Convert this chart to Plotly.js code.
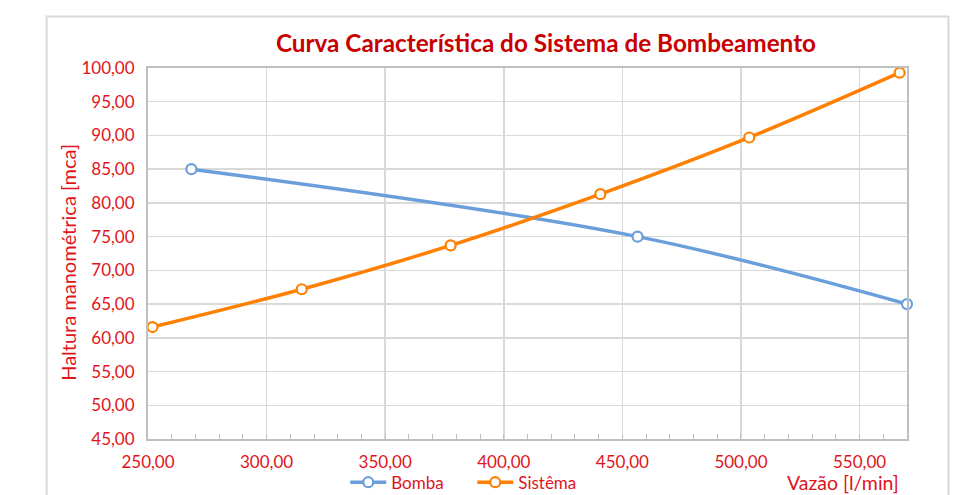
<!DOCTYPE html>
<html>
<head>
<meta charset="utf-8">
<script src="https://cdn.plot.ly/plotly-3.0.1.min.js"></script>
<style>html,body{margin:0;padding:0;background:#fff;}#chart{width:954px;height:495px;}</style>
</head>
<body>
<div id="chart"></div>
<script>
// Data
const bombaX = [268.3, 456.4, 570.0];
const bombaY = [85.0, 75.0, 65.0];
const sistemaX = [251.9, 314.8, 377.6, 440.7, 503.5, 566.9];
const sistemaY = [61.6, 67.2, 73.7, 81.3, 89.7, 99.3];
const seriesNames = ['Bomba', 'Sistêma'];
const chartTitle = 'Curva Característica do Sistema de Bombeamento';
const xTitle = 'Vazão [l/min]';
const yTitle = 'Haltura manométrica [mca]';

const FONT = 'Lato, "Open Sans", sans-serif';
const RED = '#E0141B';
const BLUE = '#6A9FDC';
const ORANGE = '#FF8000';

const W = 954, H = 495;
const L = 147.5, R = 46.5, T = 67.5, B = 56;
const pw = W - L - R, ph = H - T - B;
const px = x => (x - L) / pw;
const py = y => (H - B - y) / ph;

const traces = [
  {x: bombaX, y: bombaY, name: seriesNames[0], type: 'scatter', mode: 'lines+markers',
   line: {color: BLUE, width: 3.5, shape: 'spline', smoothing: 1},
   marker: {symbol: 'circle', size: 10, color: '#ffffff', line: {color: BLUE, width: 2.2}},
   cliponaxis: false},
  {x: sistemaX, y: sistemaY, name: seriesNames[1], type: 'scatter', mode: 'lines+markers',
   line: {color: ORANGE, width: 3.5, shape: 'spline', smoothing: 1},
   marker: {symbol: 'circle', size: 10, color: '#ffffff', line: {color: ORANGE, width: 2.2}},
   cliponaxis: false}
];

const layout = {
  width: W, height: H,
  margin: {l: L, r: R, t: T, b: B, autoexpand: false},
  paper_bgcolor: '#ffffff', plot_bgcolor: '#ffffff',
  separators: ',.',
  font: {family: FONT, size: 17, color: RED},
  title: {text: '<b>' + chartTitle + '</b>', font: {family: FONT, size: 24.3, color: '#C80000'},
          x: 546 / W, xref: 'container', xanchor: 'center', y: 1 - 43 / H, yref: 'container', yanchor: 'middle'},
  xaxis: {range: [250, 570], tick0: 250, dtick: 50, tickformat: '.2f',
          showgrid: true, gridcolor: '#D9D9D9', gridwidth: 1.5,
          showline: true, linecolor: '#BFBFBF', linewidth: 2, mirror: true,
          ticks: 'inside', ticklen: 5, tickcolor: '#BFBFBF', tickwidth: 1,
          minor: {dtick: 10, tick0: 250, ticks: 'inside', ticklen: 5, tickcolor: '#BFBFBF', tickwidth: 1, showgrid: false},
          tickfont: {family: FONT, size: 17, color: RED}, ticklabelstandoff: 7,
          zeroline: false, fixedrange: true, automargin: false},
  yaxis: {range: [45, 100], tick0: 45, dtick: 5, tickformat: '.2f',
          showgrid: true, gridcolor: '#D9D9D9', gridwidth: 1.5,
          showline: true, linecolor: '#BFBFBF', linewidth: 2, mirror: true,
          ticks: '', tickfont: {family: FONT, size: 17, color: RED}, ticklabelstandoff: 8,
          zeroline: false, fixedrange: true, automargin: false},
  showlegend: true,
  legend: {orientation: 'h', x: px(345), xanchor: 'left', y: py(482.7), yanchor: 'middle',
           itemwidth: 36, entrywidth: 76, entrywidthmode: 'pixels',
           font: {family: FONT, size: 17, color: RED}, bgcolor: 'rgba(0,0,0,0)', traceorder: 'normal'},
  annotations: [
    {text: yTitle, xref: 'paper', yref: 'paper', x: px(68), y: py(262), xanchor: 'center', yanchor: 'middle',
     textangle: -90, showarrow: false, font: {family: FONT, size: 20, color: RED}},
    {text: xTitle, xref: 'paper', yref: 'paper', x: px(901), y: py(483), xanchor: 'right', yanchor: 'middle',
     showarrow: false, font: {family: FONT, size: 19.5, color: RED}}
  ],
  shapes: [
    {type: 'rect', xref: 'paper', yref: 'paper', x0: px(46), x1: px(949), y0: py(520), y1: py(16),
     line: {color: '#D9D9D9', width: 2}, fillcolor: 'rgba(0,0,0,0)', layer: 'below'}
  ]
};

Plotly.newPlot('chart', traces, layout, {displayModeBar: false, staticPlot: true});
</script>
</body>
</html>
